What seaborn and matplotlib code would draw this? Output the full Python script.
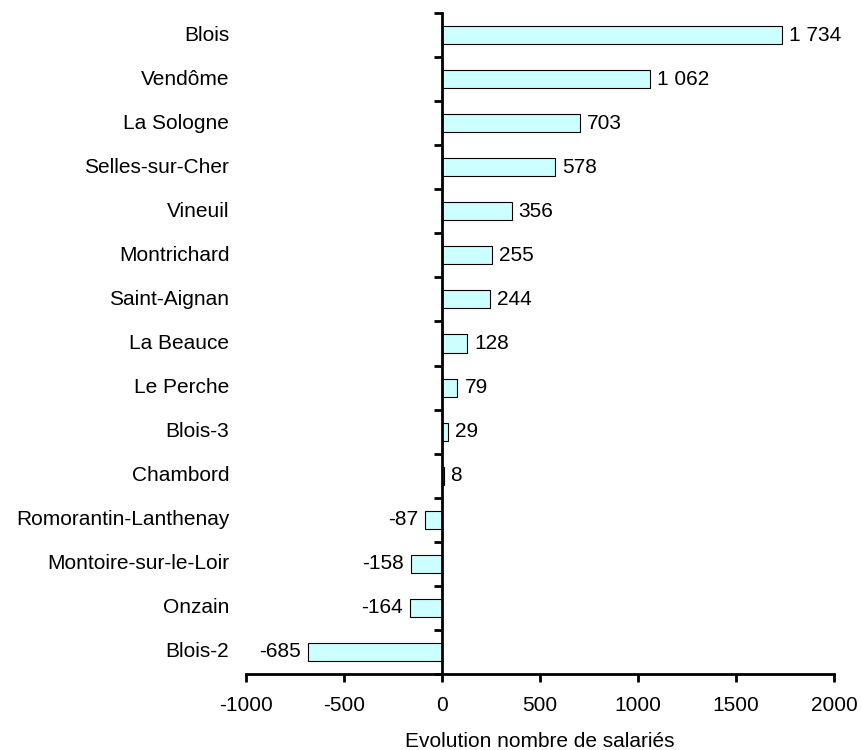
import seaborn as sns
import matplotlib.pyplot as plt
import pandas as pd

# Data
zones = ['Blois', 'Vendôme', 'La Sologne', 'Selles-sur-Cher', 'Vineuil',
         'Montrichard', 'Saint-Aignan', 'La Beauce', 'Le Perche', 'Blois-3',
         'Chambord', 'Romorantin-Lanthenay', 'Montoire-sur-le-Loir',
         'Onzain', 'Blois-2']
evolution = [1734, 1062, 703, 578, 356, 255, 244, 128, 79, 29, 8,
             -87, -158, -164, -685]

df = pd.DataFrame({'zone': zones, 'evolution': evolution})

sns.set_style("white")
plt.rcParams['font.family'] = ['Liberation Sans', 'DejaVu Sans']
plt.rcParams['font.size'] = 15
plt.rcParams['axes.unicode_minus'] = False
plt.rcParams['text.color'] = 'black'
plt.rcParams['xtick.color'] = 'black'
plt.rcParams['ytick.color'] = 'black'
plt.rcParams['axes.labelcolor'] = 'black'

fig = plt.figure(figsize=(8.61, 7.5), dpi=100)
ax = fig.add_axes([0.2857, 0.1013, 0.6829, 0.8814])

sns.barplot(data=df, x='evolution', y='zone', order=zones, orient='h',
            color='#CCFFFF', edgecolor='black', linewidth=0.8,
            width=0.41, saturation=1, ax=ax)

# value labels with space as thousands separator
labels = [f"{v:,}".replace(",", " ") for v in evolution]
ax.bar_label(ax.containers[0], labels=labels, padding=5, fontsize=15)

# axes layout: y axis drawn at x = 0
ax.set_xlim(-1000, 2000)
ax.set_ylim(len(zones) - 0.5, -0.5)
ax.set_xticks(range(-1000, 2001, 500))
ax.set_yticks([i - 0.5 for i in range(len(zones) + 1)])
ax.set_yticklabels([])
ax.spines['left'].set_position(('data', 0))
ax.spines['top'].set_visible(False)
ax.spines['right'].set_visible(False)
for s in ['left', 'bottom']:
    ax.spines[s].set_linewidth(2)
    ax.spines[s].set_color('black')
ax.tick_params(axis='both', direction='out', length=6, width=2,
               color='black', labelsize=15, labelcolor='black')
ax.tick_params(axis='y', left=True)
ax.tick_params(axis='x', bottom=True, pad=10)

# category names at the left edge of the plot area
for i, name in enumerate(zones):
    ax.annotate(name, xy=(0, i), xycoords=ax.get_yaxis_transform(),
                xytext=(-12, 0), textcoords='offset points',
                ha='right', va='center', fontsize=15)

ax.set_ylabel('')
ax.set_xlabel('Evolution nombre de salariés', fontsize=15, labelpad=12)

plt.savefig('out.png', dpi=100)
